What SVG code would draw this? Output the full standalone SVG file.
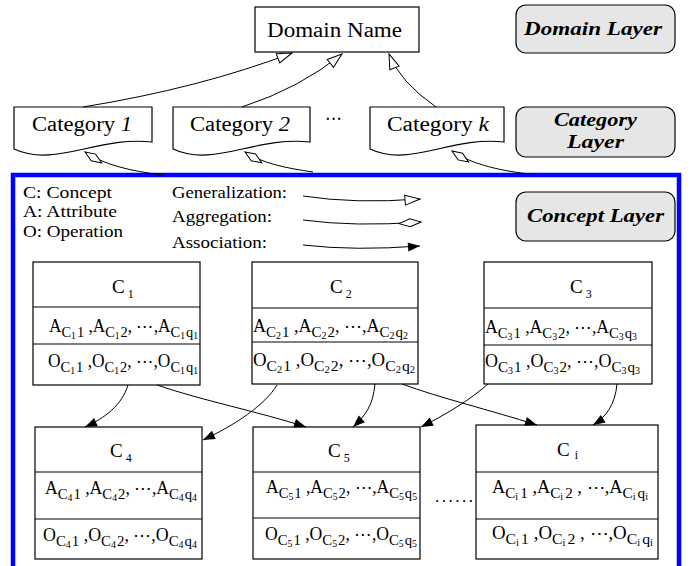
<svg xmlns="http://www.w3.org/2000/svg" width="694" height="566" viewBox="0 0 694 566">
<style>
.t{font-family:"Liberation Serif","Times New Roman",serif;fill:#000}
.bi{font-weight:bold;font-style:italic}
.m{font-size:18px}
.s{font-size:15px}
.ss{font-size:10px}
.lg{font-size:17px}
.lbl{font-size:19px}
.sub{font-size:12px}
.box{fill:#fff;stroke:#000;stroke-width:1.2}
.layer{fill:#e6e6e6;stroke:#000;stroke-width:1.2}
.ln{fill:none;stroke:#000;stroke-width:1}
</style>
<defs>
<marker id="tri" markerUnits="userSpaceOnUse" markerWidth="17" markerHeight="12" refX="15" refY="5" orient="auto" overflow="visible">
<path d="M0,0 L15,5 L0,10 Z" fill="#fff" stroke="#000" stroke-width="1"/>
</marker>
<marker id="dia" markerUnits="userSpaceOnUse" markerWidth="24" markerHeight="10" refX="22" refY="4" orient="auto" overflow="visible">
<path d="M0,4 L11,0 L22,4 L11,8 Z" fill="#fff" stroke="#000" stroke-width="1"/>
</marker>
<marker id="diaS" markerUnits="userSpaceOnUse" markerWidth="24" markerHeight="10" refX="0" refY="4" orient="auto" overflow="visible">
<path d="M0,4 L10,0 L20,4 L10,8 Z" fill="#fff" stroke="#000" stroke-width="1"/>
</marker>
<marker id="arr" markerUnits="userSpaceOnUse" markerWidth="14" markerHeight="10" refX="12" refY="4.5" orient="auto" overflow="visible">
<path d="M0,0 L12,4.5 L0,9 Z" fill="#000"/>
</marker>
</defs>

<rect x="13" y="175" width="666" height="430" fill="none" stroke="#0000ff" stroke-width="4.5"/>

<g id="domain">
<rect class="box" x="255" y="7" width="164" height="45"/>
<text class="t" x="267" y="37" font-size="20" textLength="135" lengthAdjust="spacingAndGlyphs">Domain Name</text>
</g>
<g id="domain-layer">
<rect class="layer" x="516" y="5" width="159" height="48" rx="10"/>
<text class="t bi" x="524" y="35" font-size="19" textLength="138" lengthAdjust="spacingAndGlyphs">Domain Layer</text>
</g>
<g id="category-layer">
<rect class="layer" x="516" y="107" width="159" height="50" rx="10"/>
<text class="t bi" x="554" y="126" font-size="19" textLength="83" lengthAdjust="spacingAndGlyphs">Category</text>
<text class="t bi" x="567" y="148" font-size="19" textLength="57" lengthAdjust="spacingAndGlyphs">Layer</text>
</g>
<g id="concept-layer">
<rect class="layer" x="516" y="192" width="159" height="49" rx="10"/>
<text class="t bi" x="527" y="222" font-size="19" textLength="137" lengthAdjust="spacingAndGlyphs">Concept Layer</text>
</g>

<g id="category1">
<path class="box" d="M14,107 H152 V142 C96.8,136 55.4,168 14,149 Z"/>
<text class="t" x="32" y="131" font-size="20" textLength="100" lengthAdjust="spacingAndGlyphs">Category <tspan font-style="italic">1</tspan></text>
</g>
<g id="category2">
<path class="box" d="M173,107 H310 V142 C255.2,136 214.1,168 173,149 Z"/>
<text class="t" x="190" y="131" font-size="20" textLength="100" lengthAdjust="spacingAndGlyphs">Category <tspan font-style="italic">2</tspan></text>
</g>
<g id="categoryk">
<path class="box" d="M370,107 H504 V142 C450.4,136 410.2,168 370,149 Z"/>
<text class="t" x="387" y="131" font-size="20" textLength="102" lengthAdjust="spacingAndGlyphs">Category <tspan font-style="italic">k</tspan></text>
</g>
<text class="t" x="325" y="126" font-size="20" textLength="17" lengthAdjust="spacingAndGlyphs">···</text>

<g id="legend">
<text class="t lg" x="23" y="198" textLength="89" lengthAdjust="spacingAndGlyphs">C: Concept</text>
<text class="t lg" x="23" y="217" textLength="94" lengthAdjust="spacingAndGlyphs">A: Attribute</text>
<text class="t lg" x="23" y="237" textLength="100" lengthAdjust="spacingAndGlyphs">O: Operation</text>
<text class="t lg" x="172" y="198" textLength="115" lengthAdjust="spacingAndGlyphs">Generalization:</text>
<text class="t lg" x="172" y="222" textLength="100" lengthAdjust="spacingAndGlyphs">Aggregation:</text>
<text class="t lg" x="172" y="248" textLength="95" lengthAdjust="spacingAndGlyphs">Association:</text>
<path class="ln" d="M303,196 Q355,204 420,199" marker-end="url(#tri)"/>
<path class="ln" d="M303,220 Q355,227 421,222" marker-end="url(#dia)"/>
<path class="ln" d="M303,245 Q355,251 420,246" marker-end="url(#arr)"/>
</g>

<g id="c1">
<rect class="box" x="33" y="262" width="167" height="123"/>
<line class="ln" x1="33" y1="307" x2="200" y2="307" stroke-width="1.2"/>
<line class="ln" x1="33" y1="344" x2="200" y2="344" stroke-width="1.2"/>
<text class="t lbl" x="112" y="293">C<tspan class="sub" dx="3" dy="5">1</tspan></text>
<text class="t m" x="49" y="332" textLength="149" lengthAdjust="spacingAndGlyphs">A<tspan class="s" dy="5">C</tspan><tspan class="ss" dy="2">1</tspan><tspan class="s" dx="1" dy="-2">1</tspan><tspan dy="-5"> ,</tspan>A<tspan class="s" dy="5">C</tspan><tspan class="ss" dy="2">1</tspan><tspan class="s" dx="1" dy="-2">2</tspan><tspan dy="-5">, ⋯,</tspan>A<tspan class="s" dy="5">C</tspan><tspan class="ss" dy="2">1</tspan><tspan class="s" dx="1" dy="-2">q</tspan><tspan class="ss" dy="2">1</tspan></text>
<text class="t m" x="48" y="367" textLength="150" lengthAdjust="spacingAndGlyphs">O<tspan class="s" dy="5">C</tspan><tspan class="ss" dy="2">1</tspan><tspan class="s" dx="1" dy="-2">1</tspan><tspan dy="-5"> ,</tspan>O<tspan class="s" dy="5">C</tspan><tspan class="ss" dy="2">1</tspan><tspan class="s" dx="1" dy="-2">2</tspan><tspan dy="-5">, ⋯,</tspan>O<tspan class="s" dy="5">C</tspan><tspan class="ss" dy="2">1</tspan><tspan class="s" dx="1" dy="-2">q</tspan><tspan class="ss" dy="2">1</tspan></text>
</g>

<g id="c2">
<rect class="box" x="252" y="262" width="166" height="122"/>
<line class="ln" x1="252" y1="308" x2="418" y2="308" stroke-width="1.2"/>
<line class="ln" x1="252" y1="342" x2="418" y2="342" stroke-width="1.2"/>
<text class="t lbl" x="330" y="293">C<tspan class="sub" dx="3" dy="5">2</tspan></text>
<text class="t m" x="253" y="332" textLength="155" lengthAdjust="spacingAndGlyphs">A<tspan class="s" dy="5">C</tspan><tspan class="ss" dy="2">2</tspan><tspan class="s" dx="1" dy="-2">1</tspan><tspan dy="-5"> ,</tspan>A<tspan class="s" dy="5">C</tspan><tspan class="ss" dy="2">2</tspan><tspan class="s" dx="1" dy="-2">2</tspan><tspan dy="-5">, ⋯,</tspan>A<tspan class="s" dy="5">C</tspan><tspan class="ss" dy="2">2</tspan><tspan class="s" dx="1" dy="-2">q</tspan><tspan class="ss" dy="2">2</tspan></text>
<text class="t m" x="253" y="366" textLength="162" lengthAdjust="spacingAndGlyphs">O<tspan class="s" dy="5">C</tspan><tspan class="ss" dy="2">2</tspan><tspan class="s" dx="1" dy="-2">1</tspan><tspan dy="-5"> ,</tspan>O<tspan class="s" dy="5">C</tspan><tspan class="ss" dy="2">2</tspan><tspan class="s" dx="1" dy="-2">2</tspan><tspan dy="-5">, ⋯,</tspan>O<tspan class="s" dy="5">C</tspan><tspan class="ss" dy="2">2</tspan><tspan class="s" dx="1" dy="-2">q</tspan><tspan class="ss" dy="2">2</tspan></text>
</g>

<g id="c3">
<rect class="box" x="484" y="262" width="168" height="122"/>
<line class="ln" x1="484" y1="308" x2="652" y2="308" stroke-width="1.2"/>
<line class="ln" x1="484" y1="345" x2="652" y2="345" stroke-width="1.2"/>
<text class="t lbl" x="570" y="293">C<tspan class="sub" dx="3" dy="5">3</tspan></text>
<text class="t m" x="485" y="333" textLength="152" lengthAdjust="spacingAndGlyphs">A<tspan class="s" dy="5">C</tspan><tspan class="ss" dy="2">3</tspan><tspan class="s" dx="1" dy="-2">1</tspan><tspan dy="-5"> ,</tspan>A<tspan class="s" dy="5">C</tspan><tspan class="ss" dy="2">3</tspan><tspan class="s" dx="1" dy="-2">2</tspan><tspan dy="-5">, ⋯,</tspan>A<tspan class="s" dy="5">C</tspan><tspan class="ss" dy="2">3</tspan><tspan class="s" dx="1" dy="-2">q</tspan><tspan class="ss" dy="2">3</tspan></text>
<text class="t m" x="485" y="367" textLength="155" lengthAdjust="spacingAndGlyphs">O<tspan class="s" dy="5">C</tspan><tspan class="ss" dy="2">3</tspan><tspan class="s" dx="1" dy="-2">1</tspan><tspan dy="-5"> ,</tspan>O<tspan class="s" dy="5">C</tspan><tspan class="ss" dy="2">3</tspan><tspan class="s" dx="1" dy="-2">2</tspan><tspan dy="-5">, ⋯,</tspan>O<tspan class="s" dy="5">C</tspan><tspan class="ss" dy="2">3</tspan><tspan class="s" dx="1" dy="-2">q</tspan><tspan class="ss" dy="2">3</tspan></text>
</g>

<g id="c4">
<rect class="box" x="35" y="427" width="167" height="132"/>
<line class="ln" x1="35" y1="472" x2="202" y2="472" stroke-width="1.2"/>
<line class="ln" x1="35" y1="519" x2="202" y2="519" stroke-width="1.2"/>
<text class="t lbl" x="110" y="457">C<tspan class="sub" dx="3" dy="5">4</tspan></text>
<text class="t m" x="45" y="494" textLength="152" lengthAdjust="spacingAndGlyphs">A<tspan class="s" dy="5">C</tspan><tspan class="ss" dy="2">4</tspan><tspan class="s" dx="1" dy="-2">1</tspan><tspan dy="-5"> ,</tspan>A<tspan class="s" dy="5">C</tspan><tspan class="ss" dy="2">4</tspan><tspan class="s" dx="1" dy="-2">2</tspan><tspan dy="-5">, ⋯,</tspan>A<tspan class="s" dy="5">C</tspan><tspan class="ss" dy="2">4</tspan><tspan class="s" dx="1" dy="-2">q</tspan><tspan class="ss" dy="2">4</tspan></text>
<text class="t m" x="43" y="541" textLength="154" lengthAdjust="spacingAndGlyphs">O<tspan class="s" dy="5">C</tspan><tspan class="ss" dy="2">4</tspan><tspan class="s" dx="1" dy="-2">1</tspan><tspan dy="-5"> ,</tspan>O<tspan class="s" dy="5">C</tspan><tspan class="ss" dy="2">4</tspan><tspan class="s" dx="1" dy="-2">2</tspan><tspan dy="-5">, ⋯,</tspan>O<tspan class="s" dy="5">C</tspan><tspan class="ss" dy="2">4</tspan><tspan class="s" dx="1" dy="-2">q</tspan><tspan class="ss" dy="2">4</tspan></text>
</g>

<g id="c5">
<rect class="box" x="253" y="427" width="167" height="132"/>
<line class="ln" x1="253" y1="472" x2="420" y2="472" stroke-width="1.2"/>
<line class="ln" x1="253" y1="518" x2="420" y2="518" stroke-width="1.2"/>
<text class="t lbl" x="328" y="457">C<tspan class="sub" dx="3" dy="5">5</tspan></text>
<text class="t m" x="266" y="493" textLength="151" lengthAdjust="spacingAndGlyphs">A<tspan class="s" dy="5">C</tspan><tspan class="ss" dy="2">5</tspan><tspan class="s" dx="1" dy="-2">1</tspan><tspan dy="-5"> ,</tspan>A<tspan class="s" dy="5">C</tspan><tspan class="ss" dy="2">5</tspan><tspan class="s" dx="1" dy="-2">2</tspan><tspan dy="-5">, ⋯,</tspan>A<tspan class="s" dy="5">C</tspan><tspan class="ss" dy="2">5</tspan><tspan class="s" dx="1" dy="-2">q</tspan><tspan class="ss" dy="2">5</tspan></text>
<text class="t m" x="265" y="540" textLength="152" lengthAdjust="spacingAndGlyphs">O<tspan class="s" dy="5">C</tspan><tspan class="ss" dy="2">5</tspan><tspan class="s" dx="1" dy="-2">1</tspan><tspan dy="-5"> ,</tspan>O<tspan class="s" dy="5">C</tspan><tspan class="ss" dy="2">5</tspan><tspan class="s" dx="1" dy="-2">2</tspan><tspan dy="-5">, ⋯,</tspan>O<tspan class="s" dy="5">C</tspan><tspan class="ss" dy="2">5</tspan><tspan class="s" dx="1" dy="-2">q</tspan><tspan class="ss" dy="2">5</tspan></text>
</g>

<text class="t lg" x="435" y="502" textLength="38" lengthAdjust="spacing">......</text>

<g id="ci">
<rect class="box" x="476" y="425" width="182" height="134"/>
<line class="ln" x1="476" y1="472" x2="658" y2="472" stroke-width="1.2"/>
<line class="ln" x1="476" y1="519" x2="658" y2="519" stroke-width="1.2"/>
<text class="t lbl" x="557" y="456">C<tspan class="sub" dx="5" dy="3">i</tspan></text>
<text class="t m" x="492" y="493" textLength="156" lengthAdjust="spacingAndGlyphs">A<tspan class="s" dy="5">C</tspan><tspan class="ss" dy="2">i</tspan><tspan class="s" dx="2" dy="-2">1</tspan><tspan dy="-5"> ,</tspan>A<tspan class="s" dy="5">C</tspan><tspan class="ss" dy="2">i</tspan><tspan class="s" dx="2" dy="-2">2</tspan><tspan dy="-5"> , ⋯,</tspan>A<tspan class="s" dy="5">C</tspan><tspan class="ss" dy="2">i</tspan><tspan class="s" dx="2" dy="-2">q</tspan><tspan class="ss" dy="2">i</tspan></text>
<text class="t m" x="492" y="539" textLength="161" lengthAdjust="spacingAndGlyphs">O<tspan class="s" dy="5">C</tspan><tspan class="ss" dy="2">i</tspan><tspan class="s" dx="2" dy="-2">1</tspan><tspan dy="-5"> ,</tspan>O<tspan class="s" dy="5">C</tspan><tspan class="ss" dy="2">i</tspan><tspan class="s" dx="2" dy="-2">2</tspan><tspan dy="-5"> , ⋯,</tspan>O<tspan class="s" dy="5">C</tspan><tspan class="ss" dy="2">i</tspan><tspan class="s" dx="2" dy="-2">q</tspan><tspan class="ss" dy="2">i</tspan></text>
</g>

<g id="connectors">
<path class="ln" d="M83,107 Q200,88 292,53" marker-end="url(#tri)"/>
<path class="ln" d="M242,107 Q300,88 342,54" marker-end="url(#tri)"/>
<path class="ln" d="M436,107 Q400,82 389,54" marker-end="url(#tri)"/>
<path class="ln" d="M85,152 C105,165 130,171 163,175" marker-start="url(#diaS)"/>
<path class="ln" d="M245,152 C262,163 285,168 313,172" marker-start="url(#diaS)"/>
<path class="ln" d="M452,151 C470,163 495,170 529,174" marker-start="url(#diaS)"/>
<path class="ln" d="M128,385 C122,405 105,418 85,427" marker-end="url(#arr)"/>
<path class="ln" d="M157,385 C200,400 260,412 306,427" marker-end="url(#arr)"/>
<path class="ln" d="M277,385 C265,405 235,425 203,440" marker-end="url(#arr)"/>
<path class="ln" d="M375,384 C373,405 366,415 353,427" marker-end="url(#arr)"/>
<path class="ln" d="M402,384 C440,398 490,410 537,425" marker-end="url(#arr)"/>
<path class="ln" d="M488,384 C470,400 445,415 421,427" marker-end="url(#arr)"/>
<path class="ln" d="M617,384 C615,405 606,417 593,425" marker-end="url(#arr)"/>
</g>
</svg>
